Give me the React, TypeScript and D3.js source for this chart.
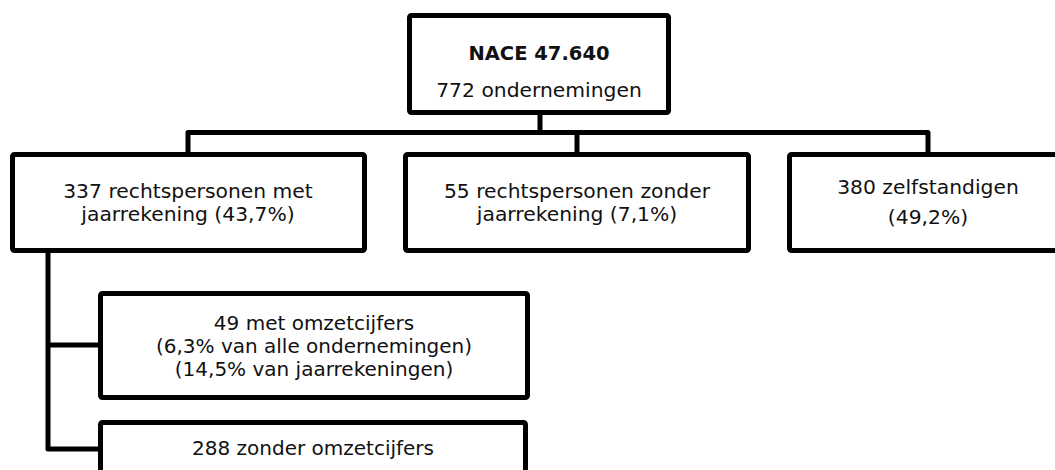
import React from "react";
import * as d3 from "d3";

// ---- content ----
const rootTitle = "NACE 47.640";
const rootSubtitle = "772 ondernemingen";
const level1Labels: string[][] = [
  ["337 rechtspersonen met", "jaarrekening (43,7%)"],
  ["55 rechtspersonen zonder", "jaarrekening (7,1%)"],
  ["380 zelfstandigen", "(49,2%)"],
];
const level2Labels: string[][] = [
  ["49 met omzetcijfers", "(6,3% van alle ondernemingen)", "(14,5% van jaarrekeningen)"],
  ["288 zonder omzetcijfers"],
];

// ---- layout ----
const W = 1055;
const H = 470;
const SW = 5;
const FONT = "'DejaVu Sans', 'Lucida Grande', sans-serif";

type Box = { x0: number; x1: number; y0: number; y1: number };
const rootBox: Box = { x0: 407, x1: 671, y0: 13, y1: 115 };
const level1Boxes: Box[] = [
  { x0: 10, x1: 367, y0: 152, y1: 253 },
  { x0: 403, x1: 751, y0: 152, y1: 253 },
  { x0: 787, x1: 1067, y0: 152, y1: 253 },
];
const level2Boxes: Box[] = [
  { x0: 98, x1: 530, y0: 291, y1: 400 },
  { x0: 98, x1: 528, y0: 420, y1: 530 },
];
const level1Baselines = [
  [198, 220.5],
  [198, 221],
  [194, 224],
];
const level2Baselines = [[330, 353, 375.5], [455]];
const busY = 132.5;
const rootStemX = 540;
const level1StemX = [188, 577, 928];
const sideBusX = 48;
const level2BranchY = [345, 449];

function BoxRect({ b }: { b: Box }) {
  return (
    <rect
      x={b.x0 + SW / 2}
      y={b.y0 + SW / 2}
      width={b.x1 - b.x0 - SW}
      height={b.y1 - b.y0 - SW}
      rx={2}
      ry={2}
      fill="#fff"
      stroke="#000"
      strokeWidth={SW}
    />
  );
}

export default function App() {
  const cx = (b: Box) => (b.x0 + b.x1) / 2;

  // connectors
  const p = d3.path();
  p.moveTo(rootStemX, rootBox.y1 - SW / 2);
  p.lineTo(rootStemX, busY);
  p.moveTo(level1StemX[0], level1Boxes[0].y0 + SW / 2);
  p.lineTo(level1StemX[0], busY);
  p.lineTo(level1StemX[2], busY);
  p.lineTo(level1StemX[2], level1Boxes[2].y0 + SW / 2);
  p.moveTo(level1StemX[1], busY);
  p.lineTo(level1StemX[1], level1Boxes[1].y0 + SW / 2);
  // side bus for level 2
  p.moveTo(sideBusX, level1Boxes[0].y1 - SW / 2);
  p.lineTo(sideBusX, level2BranchY[1]);
  p.lineTo(level2Boxes[1].x0 + SW / 2, level2BranchY[1]);
  p.moveTo(sideBusX, level2BranchY[0]);
  p.lineTo(level2Boxes[0].x0 + SW / 2, level2BranchY[0]);

  return (
    <svg
      width={W}
      height={H}
      viewBox={`0 0 ${W} ${H}`}
      style={{ position: "absolute", left: 0, top: 0, background: "#fff" }}
    >
      <path d={p.toString()} fill="none" stroke="#000" strokeWidth={SW} strokeLinejoin="round" />

      <BoxRect b={rootBox} />
      <text x={cx(rootBox)} y={60} textAnchor="middle" fontFamily={FONT} fontSize={19.5} fontWeight="bold" fill="#111">
        {rootTitle}
      </text>
      <text x={cx(rootBox)} y={97} textAnchor="middle" fontFamily={FONT} fontSize={20.3} fill="#111">
        {rootSubtitle}
      </text>

      {level1Boxes.map((b, i) => (
        <g key={"l1" + i}>
          <BoxRect b={b} />
          {level1Labels[i].map((t, j) => (
            <text
              key={j}
              x={level1StemX[i]}
              y={level1Baselines[i][j]}
              textAnchor="middle"
              fontFamily={FONT}
              fontSize={20.3}
              fill="#111"
            >
              {t}
            </text>
          ))}
        </g>
      ))}

      {level2Boxes.map((b, i) => (
        <g key={"l2" + i}>
          <BoxRect b={b} />
          {level2Labels[i].map((t, j) => (
            <text
              key={j}
              x={cx(b)}
              y={level2Baselines[i][j]}
              textAnchor="middle"
              fontFamily={FONT}
              fontSize={20}
              fill="#111"
            >
              {t}
            </text>
          ))}
        </g>
      ))}
    </svg>
  );
}
